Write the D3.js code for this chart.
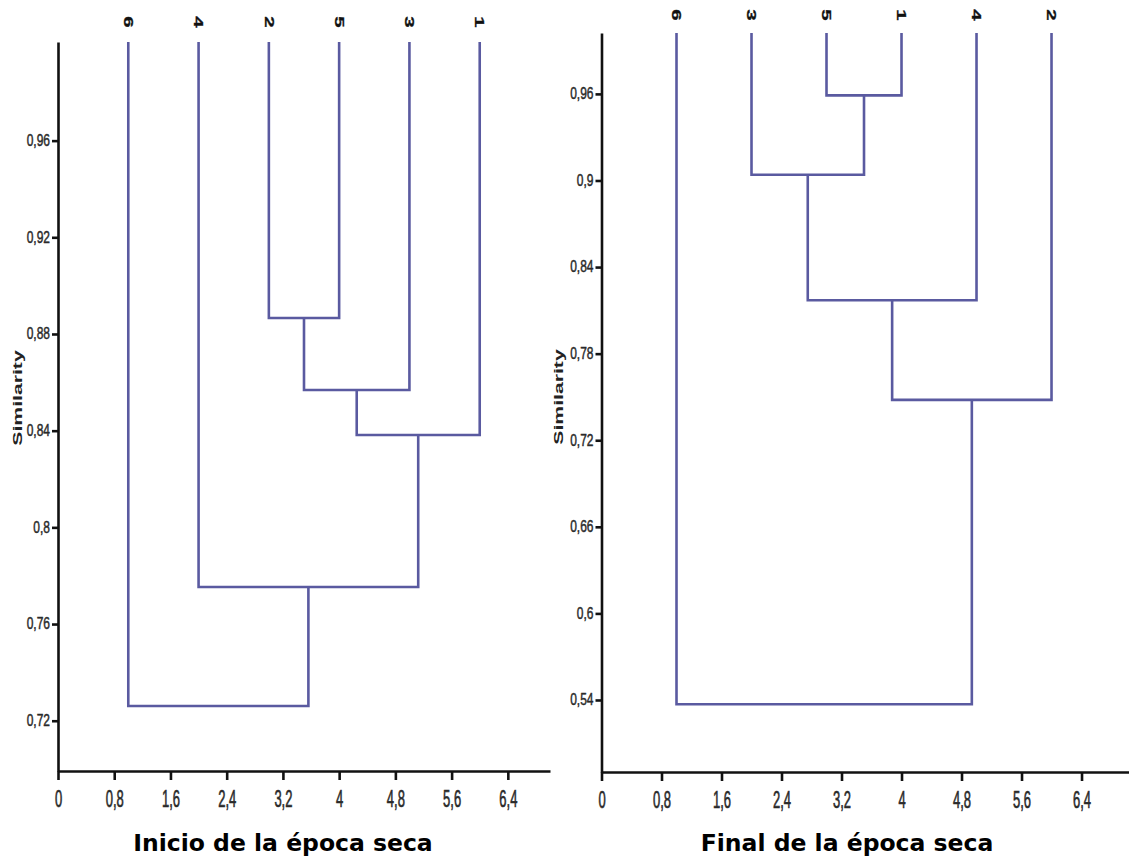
<!DOCTYPE html>
<html>
<head>
<meta charset="utf-8">
<script src="https://cdn.jsdelivr.net/npm/d3@7"></script>
<style>
  html, body { margin: 0; padding: 0; background: #fff; }
  svg { display: block; }
</style>
</head>
<body>
<script>
// leaf order along the x axis, merges (A = first merge, B = second ...) and their similarity
const leftLeaves = ["6", "4", "2", "5", "3", "1"];
const leftJoins = [["2", "5"], ["A", "3"], ["B", "1"], ["4", "C"], ["6", "D"]];
const leftSims = [0.8866, 0.8568, 0.8382, 0.7753, 0.7261];

const rightLeaves = ["6", "3", "5", "1", "4", "2"];
const rightJoins = [["5", "1"], ["3", "A"], ["B", "4"], ["C", "2"], ["6", "D"]];
const rightSims = [0.959, 0.904, 0.817, 0.748, 0.537];

const xTicks = [0, 0.8, 1.6, 2.4, 3.2, 4, 4.8, 5.6, 6.4];
const leftYTicks = [0.72, 0.76, 0.8, 0.84, 0.88, 0.92, 0.96];
const rightYTicks = [0.54, 0.6, 0.66, 0.72, 0.78, 0.84, 0.9, 0.96];

const titles = ["Inicio de la época seca", "Final de la época seca"];
const yLabel = "Similarity";

const W = 1129, H = 859;
const lineColor = "#5a5aa0";
const comma = d => String(d).replace(".", ",");

const svg = d3.select("body").append("svg")
  .attr("width", W)
  .attr("height", H);

function drawPanel(p) {
  const x = d3.scaleLinear().domain(p.xDomain).range(p.xRange);
  const y = d3.scaleLinear().domain(p.yDomain).range(p.yRange);
  const g = svg.append("g");

  // dendrogram
  const nodes = {};
  p.leaves.forEach((l, i) => { nodes[l] = { x: i + 1, top: y.range()[1] }; });
  p.joins.forEach((pair, i) => {
    const a = nodes[pair[0]], b = nodes[pair[1]];
    const ym = y(p.sims[i]);
    g.append("path")
      .attr("d", "M" + x(a.x) + "," + a.top + "V" + ym + "H" + x(b.x) + "V" + b.top)
      .attr("fill", "none")
      .attr("stroke", lineColor)
      .attr("stroke-width", 2.6);
    nodes["ABCDE"[i]] = { x: (a.x + b.x) / 2, top: ym };
  });

  // leaf labels
  g.selectAll(".leaf")
    .data(p.leaves)
    .enter()
    .append("text")
    .attr("class", "leaf")
    .attr("transform", (d, i) => "translate(" + x(i + 1) + "," + p.leafLabelY + ") scale(1,1.7) rotate(90)")
    .attr("text-anchor", "middle")
    .attr("dy", "0.36em")
    .style("font-family", "'Liberation Sans', Arial, sans-serif")
    .style("font-weight", "bold")
    .style("font-size", "12px")
    .attr("fill", "#111")
    .attr("stroke", "#111")
    .attr("stroke-width", 0.3)
    .text(d => d);

  // y axis
  const yAxis = g.append("g")
    .attr("transform", "translate(" + p.xRange[0] + ",0)")
    .call(d3.axisLeft(y).tickValues(p.yTicks).tickSize(6).tickSizeOuter(0).tickFormat(comma));

  yAxis.selectAll("text")
    .attr("x", -8)
    .attr("dy", "0.3em")
    .attr("transform", "scale(1,1.34)")
    .style("font-family", "'Liberation Sans', Arial, sans-serif")
    .style("font-size", "12px")
    .attr("fill", "#2a2a2a")
    .attr("stroke", "#2a2a2a")
    .attr("stroke-width", 0.35);

  // x axis
  const xAxis = g.append("g")
    .attr("transform", "translate(0," + p.yRange[0] + ")")
    .call(d3.axisBottom(x).tickValues(xTicks).tickSize(9).tickSizeOuter(0).tickFormat(comma));

  xAxis.selectAll("text")
    .attr("y", 0)
    .attr("dy", 0)
    .attr("transform", "translate(0,36) scale(1,1.85)")
    .style("font-family", "'Liberation Sans', Arial, sans-serif")
    .style("font-size", "13px")
    .attr("fill", "#2a2a2a")
    .attr("stroke", "#2a2a2a")
    .attr("stroke-width", 0.35);

  [yAxis, xAxis].forEach(a => {
    a.select(".domain").attr("stroke", "#111").attr("stroke-width", 2.6);
    a.selectAll(".tick line").attr("stroke", "#111").attr("stroke-width", 2.6);
  });

  // y title
  g.append("text")
    .attr("transform", "translate(" + p.yLabelX + "," + p.yLabelY + ") scale(1,1.63) rotate(-90)")
    .attr("text-anchor", "middle")
    .attr("dy", "0.35em")
    .style("font-family", "'Liberation Sans', Arial, sans-serif")
    .style("font-weight", "bold")
    .style("font-size", "13px")
    .attr("fill", "#222")
    .text(yLabel);

  // panel caption
  g.append("text")
    .attr("x", p.titleX)
    .attr("y", 851)
    .attr("text-anchor", "middle")
    .style("font-family", "'DejaVu Sans', Verdana, sans-serif")
    .style("font-weight", "bold")
    .style("font-size", "23.5px")
    .attr("fill", "#000")
    .text(p.title);
}

drawPanel({
  leaves: leftLeaves, joins: leftJoins, sims: leftSims, yTicks: leftYTicks,
  xDomain: [0, 7], xRange: [58, 550],
  yDomain: [0.6992, 1.0008], yRange: [771, 42],
  leafLabelY: 22, yLabelX: 17.5, yLabelY: 398,
  titleX: 283, title: titles[0]
});

drawPanel({
  leaves: rightLeaves, joins: rightJoins, sims: rightSims, yTicks: rightYTicks,
  xDomain: [0, 7.033], xRange: [601.5, 1129],
  yDomain: [0.4901, 1.0022], yRange: [772, 33],
  leafLabelY: 15, yLabelX: 558, yLabelY: 397,
  titleX: 847, title: titles[1]
});
</script>
</body>
</html>
